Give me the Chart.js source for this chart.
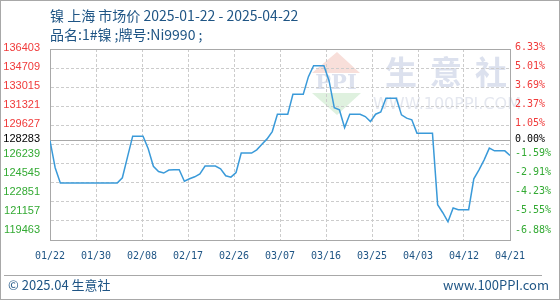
<!DOCTYPE html>
<html>
<head>
<meta charset="utf-8">
<script src="https://cdn.jsdelivr.net/npm/chart.js@4/dist/chart.umd.min.js"></script>
<style>
  html, body { margin: 0; padding: 0; background: #fff; }
  #wrap { position: relative; width: 560px; height: 300px; overflow: hidden; }
  #chart { position: absolute; left: 0; top: 0; }
  #frame { position: absolute; left: 0; top: 0; width: 558px; height: 298px; border: 1px solid #a8a8a8; pointer-events: none; }
  #rule { position: absolute; left: 4px; top: 275px; width: 538px; border-top: 1px solid #a8a8a8; }
  .txt { position: absolute; white-space: nowrap; color: #1f5585; line-height: 18px;
         font-family: "Noto Sans CJK SC", "Noto Sans", sans-serif; }
</style>
</head>
<body>
<div id="wrap">
  <canvas id="chart" width="560" height="300"></canvas>
  <div class="txt" style="left:50px; top:6px; font-size:14px;">镍 上海 市场价 2025-01-22 - 2025-04-22</div>
  <div class="txt" style="left:50px; top:25px; font-size:14px;">品名:1#镍 ;牌号:Ni9990 ;</div>
  <div id="rule"></div>
  <div class="txt" style="left:8px; top:276px; font-size:13px;">© 2025.04 生意社</div>
  <div class="txt" style="right:11px; top:276px; font-size:13px;">www.100PPI.com</div>
  <div id="frame"></div>
</div>
<script>
// daily price, 01/22 .. 04/21 (weekends / holidays repeat the last quote)
const prices = [
  128283, 125870,
  124510, 124510, 124510, 124510, 124510, 124510, 124510, 124510, 124510, 124510, 124510, 124510,
  124980, 126840, 128670, 128670, 128670, 127550, 126000, 125540, 125400,
  125670, 125690, 125690, 124670, 124890, 125070, 125330,
  126020, 126020, 126020, 125780, 125160, 125040, 125450,
  127170, 127170, 127170, 127460, 127960, 128430, 129080,
  130620, 130620, 130620, 132390, 132390, 132390, 133950,
  134920, 134920, 134920, 133570, 131200, 131000, 129430,
  130620, 130620, 130620, 130410, 129970, 130620, 130820,
  132040, 132040, 132040, 130560, 130270, 130120,
  128940, 128940, 128940, 128940, 122590, 121880, 121080, 122300,
  122150, 122150, 122150, 124890, 125690, 126570, 127610,
  127370, 127370, 127370, 126960
];

const basePrice = 128283;
const priceMax = 136403;
const priceMin = 119463;
const gridPrices = [136403, 134709, 133015, 131321, 129627, 127933, 126239, 124545, 122851, 121157, 119463];
const priceLabels = [136403, 134709, 133015, 131321, 129627, 128283, 126239, 124545, 122851, 121157, 119463];
const percentLabels = ["6.33%", "5.01%", "3.69%", "2.37%", "1.05%", "0.00%", "-1.59%", "-2.91%", "-4.23%", "-5.55%", "-6.88%"];
const dateLabels = ["01/22", "01/30", "02/08", "02/17", "02/26", "03/07", "03/16", "03/25", "04/03", "04/12", "04/21"];
const lastDay = 89;

const frameColor = "#a8a8a8";
const dashColor = "#cccccc";

function labelColor(v) {
  if (v > basePrice) return "#f03a3a";
  if (v < basePrice) return "#33aa33";
  return "#000000";
}

// labels sit a bit above their lines, the lower ones a full line higher
function labelTicks(scale) {
  const h = scale.bottom - scale.top || 191;
  const perPx = (priceMax - priceMin) / h;
  scale.ticks = priceLabels.map((v) => ({ value: v + (v < basePrice ? 10 : 1.5) * perPx }));
}

const watermark = {
  id: "watermark",
  beforeDraw(chart) {
    const ctx = chart.ctx;
    ctx.save();
    ctx.fillStyle = "#f8dfda";
    ctx.beginPath();
    ctx.moveTo(337, 52);
    ctx.lineTo(360, 73);
    ctx.lineTo(312, 73);
    ctx.closePath();
    ctx.fill();
    ctx.fillStyle = "#dff1df";
    ctx.beginPath();
    ctx.moveTo(312, 93);
    ctx.lineTo(361, 93);
    ctx.lineTo(337, 115);
    ctx.closePath();
    ctx.fill();
    ctx.fillStyle = "#dce1ee";
    ctx.textAlign = "center";
    ctx.textBaseline = "middle";
    ctx.font = "bold 21px 'DejaVu Serif'";
    ctx.fillText("PPI", 336, 84);
    ctx.font = "bold 32px 'Noto Sans CJK SC'";
    ["生", "意", "社"].forEach((c, i) => ctx.fillText(c, 401 + i * 45, 72));
    ctx.fillStyle = "#e4e7ef";
    ctx.font = "16px 'DejaVu Sans'";
    ctx.fillText("WWW.100PPI.COM", 447, 105);
    ctx.restore();
  },
};

const ctx = document.getElementById("chart").getContext("2d");

new Chart(ctx, {
  type: "line",
  data: {
    datasets: [
      {
        data: prices.map((v, i) => ({ x: i, y: v })),
        borderColor: "#3a9ad9",
        borderWidth: 1.5,
        pointRadius: 0,
        tension: 0,
        yAxisID: "y",
      },
    ],
  },
  options: {
    responsive: false,
    animation: false,
    layout: { padding: { top: 49, bottom: 25, left: 0, right: 0 } },
    plugins: {
      legend: { display: false },
      tooltip: { enabled: false },
    },
    scales: {
      x: {
        type: "linear",
        min: 0,
        max: lastDay,
        afterBuildTicks: (scale) => {
          scale.ticks = dateLabels.map((_, i) => ({ value: (i * lastDay) / (dateLabels.length - 1) }));
        },
        afterFit: (scale) => {
          scale.height = 35;
        },
        ticks: {
          autoSkip: false,
          maxRotation: 0,
          padding: 10,
          color: "#1f5585",
          font: { family: "DejaVu Sans Mono", size: 10 },
          callback: (v, i) => dateLabels[i],
        },
        grid: {
          drawTicks: false,
          color: (c) => (c.index === 0 || c.index === dateLabels.length - 1 ? frameColor : dashColor),
        },
        border: {
          color: frameColor,
          dash: (c) => (c.index === 0 || c.index === dateLabels.length - 1 ? [] : [3, 2]),
        },
      },
      y: {
        position: "left",
        weight: 0,
        min: priceMin,
        max: priceMax,
        afterBuildTicks: (scale) => {
          scale.ticks = gridPrices.concat([basePrice]).map((v) => ({ value: v }));
        },
        afterFit: (scale) => {
          scale.width = 0;
        },
        ticks: { display: false },
        grid: {
          drawTicks: false,
          color: (c) => (c.tick && (c.tick.value === basePrice || c.tick.value === priceMax) ? frameColor : dashColor),
        },
        border: {
          color: frameColor,
          dash: (c) => (c.tick && (c.tick.value === basePrice || c.tick.value === priceMax) ? [] : [3, 2]),
        },
      },
      yl: {
        position: "left",
        weight: 1,
        min: priceMin,
        max: priceMax,
        afterBuildTicks: labelTicks,
        afterFit: (scale) => {
          scale.width = 50;
        },
        ticks: {
          autoSkip: false,
          padding: 10,
          font: { family: "Liberation Sans", size: 11 },
          color: (c) => labelColor(priceLabels[c.index]),
          callback: (v, i) => String(priceLabels[i]),
        },
        grid: { display: false, drawTicks: false },
        border: { display: false },
      },
      yr: {
        position: "right",
        min: priceMin,
        max: priceMax,
        afterBuildTicks: labelTicks,
        afterFit: (scale) => {
          scale.width = 50;
        },
        ticks: {
          autoSkip: false,
          padding: 5,
          font: { family: "DejaVu Sans Mono", size: 10 },
          color: (c) => labelColor(priceLabels[c.index]),
          callback: (v, i) => percentLabels[i],
        },
        grid: { drawOnChartArea: false, drawTicks: false },
        border: { display: true, color: frameColor },
      },
    },
  },
  plugins: [watermark],
});
</script>
</body>
</html>
